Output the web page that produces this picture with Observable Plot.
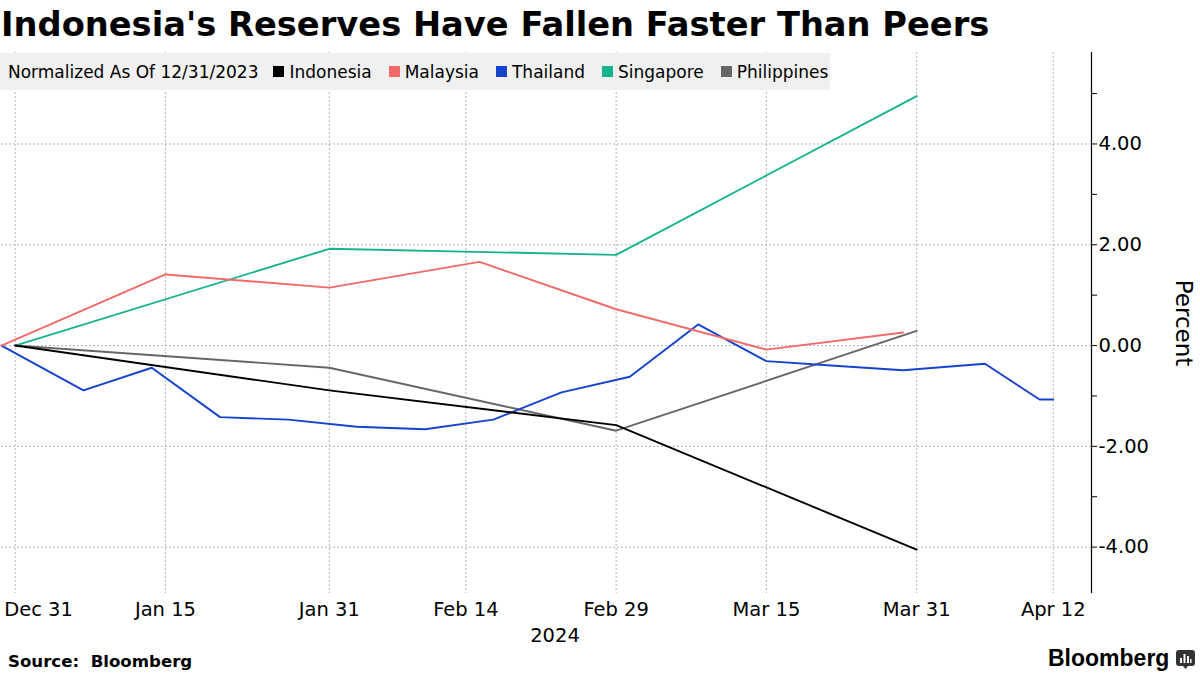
<!DOCTYPE html>
<html>
<head>
<meta charset="utf-8">
<script src="https://cdn.jsdelivr.net/npm/d3@7"></script>
<script src="https://cdn.jsdelivr.net/npm/@observablehq/plot@0.6"></script>
<style>
  html, body { margin: 0; padding: 0; background: #fff; }
  #wrap { position: relative; width: 1200px; height: 675px; overflow: hidden; font-family: "DejaVu Sans", sans-serif; color: #000; }
  #chart { position: absolute; left: 0; top: 0; }
  #title { position: absolute; left: 1px; top: 8px; font-size: 33.7px; line-height: 33px; font-weight: bold; white-space: nowrap; }
  #legend { position: absolute; left: 0; top: 53px; height: 37px; width: 830px; background: #f0f0f0; display: flex; align-items: center; font-size: 17px; white-space: nowrap; }
  #legend .lead { margin-left: 8px; margin-right: 15px; }
  #legend .item { display: flex; align-items: center; margin-right: 17px; }
  #legend .sw { width: 11px; height: 11px; margin-right: 5px; display: inline-block; }
  #year { position: absolute; left: 555px; top: 624px; transform: translateX(-50%); font-size: 19.5px; }
  #source { position: absolute; left: 8px; top: 652px; font-size: 16.6px; font-weight: bold; white-space: pre; }
  #logo { position: absolute; left: 1048px; top: 645px; font-family: "Liberation Sans", Arial, sans-serif; font-weight: bold; font-size: 23px; }
  #icon { position: absolute; left: 1176px; top: 650px; }
</style>
</head>
<body>
<div id="wrap">
  <div id="chart"></div>
  <div id="title">Indonesia's Reserves Have Fallen Faster Than Peers</div>
  <div id="legend"></div>
  <div id="year">2024</div>
  <div id="source">Source:  Bloomberg</div>
  <div id="logo">Bloomberg</div>
  <svg id="icon" width="19" height="19" viewBox="0 0 19 19">
    <path d="M3 0h13a3 3 0 0 1 3 3v10a3 3 0 0 1-3 3h-4l-2.5 3-2.5-3H3a3 3 0 0 1-3-3V3a3 3 0 0 1 3-3z" fill="#333"/>
    <rect x="4" y="8" width="2" height="5" fill="#fff"/>
    <rect x="7.5" y="4" width="2" height="9" fill="#fff"/>
    <rect x="11" y="6" width="2" height="7" fill="#fff"/>
    <rect x="14" y="9" width="1.5" height="4" fill="#fff"/>
  </svg>
</div>
<script>
// ---------- data ----------
const legendLead = "Normalized As Of 12/31/2023";
const seriesNames = ["Indonesia", "Malaysia", "Thailand", "Singapore", "Philippines"];
const seriesColors = ["#000000", "#f36a6a", "#1443cc", "#17b38c", "#666666"];

const monthDates = ["2023-12-31", "2024-01-31", "2024-02-29", "2024-03-31"];
const indonesiaValues = [0, -0.89, -1.58, -4.05];
const singaporeValues = [0, 1.92, 1.80, 4.95];
const philippinesValues = [0, -0.44, -1.69, 0.29];

const malaysiaDates = ["2023-12-29", "2024-01-15", "2024-01-31", "2024-02-15", "2024-02-29", "2024-03-15", "2024-03-29"];
const malaysiaValues = [0, 1.41, 1.15, 1.66, 0.72, -0.08, 0.26];

const thailandDates = ["2023-12-29", "2024-01-05", "2024-01-12", "2024-01-19", "2024-01-26", "2024-02-02", "2024-02-09",
  "2024-02-16", "2024-02-23", "2024-03-01", "2024-03-08", "2024-03-15", "2024-03-22", "2024-03-29", "2024-04-05",
  "2024-04-11", "2024-04-12"];
const thailandValues = [0, -0.89, -0.44, -1.42, -1.47, -1.61, -1.66, -1.47, -0.93, -0.62, 0.42, -0.31, -0.40, -0.49,
  -0.36, -1.07, -1.07];

const tickDates = ["2023-12-31", "2024-01-15", "2024-01-31", "2024-02-14", "2024-02-29", "2024-03-15", "2024-03-31", "2024-04-12"];
const tickLabels = ["Dec 31", "Jan 15", "Jan 31", "Feb 14", "Feb 29", "Mar 15", "Mar 31", "Apr 12"];
const yMajorTicks = [-4, -2, 0, 2, 4];
const yMinorTicks = [-3, -1, 1, 3, 5];
const yLabel = "Percent";

// ---------- axis: business days plus month-end weekend dates ----------
const axisStart = "2023-12-29", axisEnd = "2024-04-20";
const extraAxisDays = ["2023-12-31", "2024-03-31"];
const fmt = d3.utcFormat("%Y-%m-%d");
const weekdays = d3.utcDays(new Date(axisStart), new Date(axisEnd)).filter(d => d.getUTCDay() % 6 !== 0).map(fmt);
const axisDays = Array.from(new Set([...weekdays, ...extraAxisDays])).sort();
const dayIndex = new Map(axisDays.map((d, i) => [d, i]));
const xMax = 79.8;

const seriesData = {
  Indonesia: [monthDates, indonesiaValues],
  Malaysia: [malaysiaDates, malaysiaValues],
  Thailand: [thailandDates, thailandValues],
  Singapore: [monthDates, singaporeValues],
  Philippines: [monthDates, philippinesValues]
};
const rows = [];
for (const name of seriesNames.slice().reverse()) {
  const [dates, vals] = seriesData[name];
  dates.forEach((d, i) => rows.push({series: name, i: dayIndex.get(d), value: vals[i]}));
}
const ticks = tickDates.map((d, k) => ({i: dayIndex.get(d), label: tickLabels[k]}));

const gridStyle = {stroke: "#b5b5b5", strokeOpacity: 1, strokeWidth: 1, strokeDasharray: "2,2"};

const chart = Plot.plot({
  width: 1200, height: 675,
  marginTop: 52, marginBottom: 82, marginLeft: 1, marginRight: 109,
  x: {type: "linear", domain: [0, xMax], axis: null},
  y: {domain: [-4.92, 5.815], axis: null},
  color: {domain: seriesNames, range: seriesColors},
  style: {fontFamily: "DejaVu Sans", background: "transparent", color: "#000"},
  marks: [
    Plot.gridX(ticks.map(t => t.i), gridStyle),
    Plot.gridY(yMajorTicks, gridStyle),
    Plot.ruleX([xMax], {stroke: "#000", strokeWidth: 1.2}),
    Plot.axisY(yMajorTicks, {anchor: "right", tickSize: 5, tickPadding: 2, fontSize: 19.5, tickFormat: d => d.toFixed(2), label: null, stroke: "#000"}),
    Plot.axisY(yMinorTicks, {anchor: "right", tickSize: 5, tickFormat: () => "", label: null, stroke: "#000"}),
    Plot.text(ticks.slice(0, 1), {x: "i", text: "label", frameAnchor: "bottom", lineAnchor: "top", dy: 9, dx: -11, textAnchor: "start", fontSize: 19.5}),
    Plot.text(ticks.slice(1), {x: "i", text: "label", frameAnchor: "bottom", lineAnchor: "top", dy: 9, fontSize: 19.5}),
    Plot.text([yLabel], {frameAnchor: "right", textAnchor: "middle", dx: 92, rotate: 90, fontSize: 23}),
    Plot.line(rows, {x: "i", y: "value", z: "series", stroke: "series", strokeWidth: 1.9, curve: "linear"})
  ]
});
document.getElementById("chart").appendChild(chart);

// ---------- legend ----------
const legend = document.getElementById("legend");
const lead = document.createElement("span");
lead.className = "lead";
lead.textContent = legendLead;
legend.appendChild(lead);
seriesNames.forEach((name, k) => {
  const item = document.createElement("span");
  item.className = "item";
  const sw = document.createElement("span");
  sw.className = "sw";
  sw.style.background = seriesColors[k];
  const t = document.createElement("span");
  t.textContent = name;
  item.appendChild(sw);
  item.appendChild(t);
  legend.appendChild(item);
});
</script>
</body>
</html>
